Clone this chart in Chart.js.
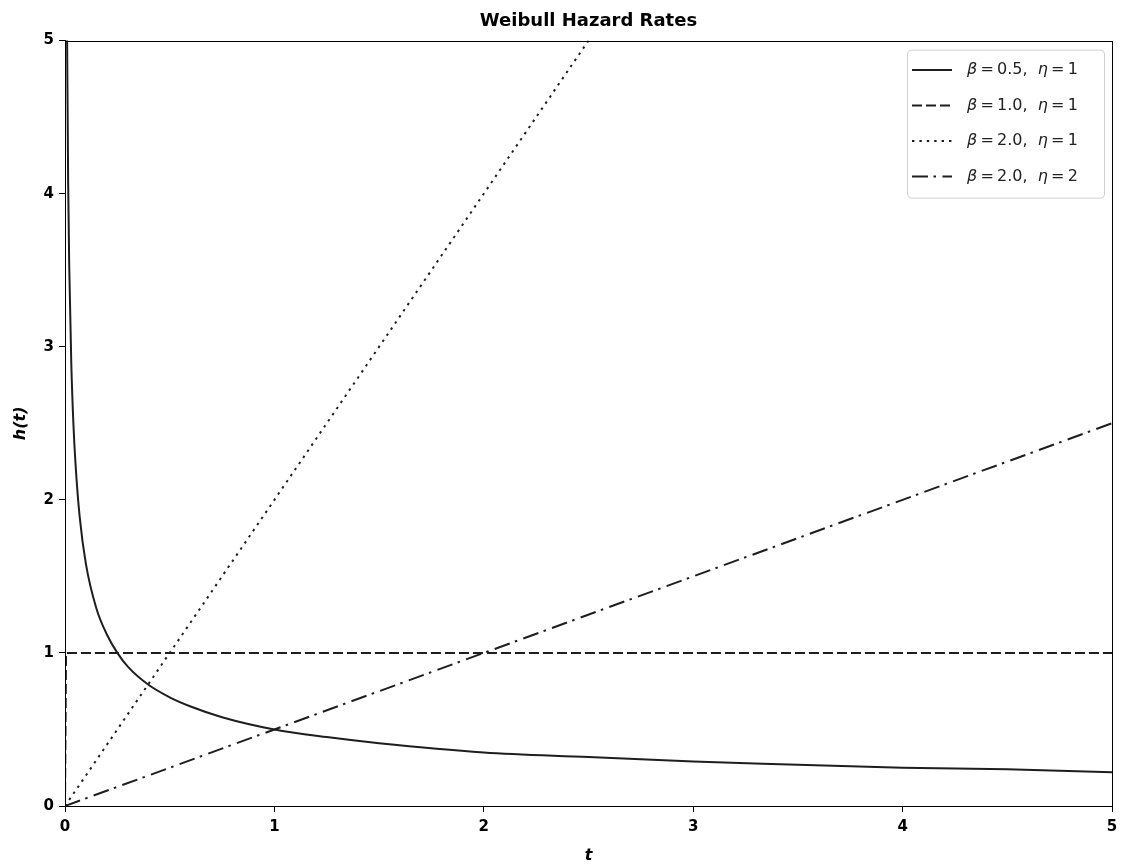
<!DOCTYPE html>
<html>
<head>
<meta charset="utf-8">
<script src="https://cdn.jsdelivr.net/npm/chart.js@4/dist/chart.umd.min.js"></script>
<style>
  html, body { margin: 0; padding: 0; background: #fff; }
  #wrap { width: 1121px; height: 865px; }
</style>
</head>
<body>
<div id="wrap"><canvas id="hazard"></canvas></div>
<script>
'use strict'

// values
const xTicks = [0, 1, 2, 3, 4, 5]
const yTicks = [0, 1, 2, 3, 4, 5]

const b05T = [0.008, 0.01, 0.015, 0.02, 0.03, 0.04, 0.05, 0.07, 0.1, 0.15, 0.2, 0.25, 0.3, 0.4, 0.5, 0.6, 0.75, 1, 1.25, 1.5, 2, 2.5, 3, 3.5, 4, 4.5, 5]
const b05H = [5.6, 5.0, 4.08, 3.54, 2.89, 2.5, 2.24, 1.89, 1.58, 1.29, 1.12, 1.0, 0.91, 0.79, 0.71, 0.65, 0.58, 0.5, 0.45, 0.41, 0.35, 0.32, 0.29, 0.27, 0.25, 0.24, 0.22]

const b10T = [0, 0.005, 5]
const b10H = [0, 1, 1]

const b20e1T = [0, 2.5]
const b20e1H = [0, 5]

const b20e2T = [0, 5]
const b20e2H = [0, 2.5]

const series = [
  { beta: '0.5', eta: '1', t: b05T, h: b05H, dash: [] },
  { beta: '1.0', eta: '1', t: b10T, h: b10H, dash: [10, 4] },
  { beta: '2.0', eta: '1', t: b20e1T, h: b20e1H, dash: [2.4, 5] },
  { beta: '2.0', eta: '2', t: b20e2T, h: b20e2H, dash: [16, 5.5, 2.5, 6.5] }
]

const lineColor = '#1e1e1e'
const fontFamily = "'DejaVu Sans', sans-serif"

Chart.defaults.font.family = fontFamily
Chart.defaults.color = '#000000'

// full box round the axes
const frame = {
  id: 'frame',
  afterDraw(chart) {
    const { ctx, chartArea: a } = chart
    ctx.save()
    ctx.strokeStyle = '#000000'
    ctx.lineWidth = 1
    ctx.strokeRect(Math.round(a.left) + 0.5, Math.round(a.top) + 0.5,
      Math.round(a.right - a.left), Math.round(a.bottom - a.top))
    ctx.restore()
  }
}

// matplotlib-style legend box in the upper right corner
const boxLegend = {
  id: 'boxLegend',
  afterDatasetsDraw(chart) {
    const { ctx, chartArea: a } = chart
    const w = 197
    const h = 148
    const x = a.right - 8 - w
    const y = a.top + 9
    ctx.save()
    ctx.beginPath()
    ctx.roundRect(x + 0.5, y + 0.5, w, h, 4)
    ctx.fillStyle = 'rgba(255,255,255,0.85)'
    ctx.fill()
    ctx.strokeStyle = '#d0d0d0'
    ctx.lineWidth = 1
    ctx.stroke()

    chart.data.datasets.forEach((ds, i) => {
      const s = series[i]
      const rowY = y + 20.5 + i * 35.5
      ctx.beginPath()
      ctx.setLineDash(ds.borderDash || [])
      ctx.strokeStyle = ds.borderColor
      ctx.lineWidth = ds.borderWidth
      ctx.moveTo(x + 5, rowY)
      ctx.lineTo(x + 45, rowY)
      ctx.stroke()
      ctx.setLineDash([])

      const parts = [
        ['italic', 'β'], ['normal', '\u2009=\u2009' + s.beta + ',  '],
        ['italic', 'η'], ['normal', '\u2009=\u2009' + s.eta]
      ]
      let tx = x + 60
      ctx.fillStyle = '#222222'
      ctx.textBaseline = 'middle'
      parts.forEach(([style, txt]) => {
        ctx.font = style + ' 16px ' + fontFamily
        ctx.fillText(txt, tx, rowY)
        tx += ctx.measureText(txt).width
      })
    })
    ctx.restore()
  }
}

new Chart(document.getElementById('hazard'), {
  type: 'line',
  data: {
    datasets: series.map((s) => ({
      label: 'β = ' + s.beta + ', η = ' + s.eta,
      data: s.t.map((t, i) => ({ x: t, y: s.h[i] })),
      borderColor: lineColor,
      borderWidth: 2,
      borderDash: s.dash,
      pointRadius: 0,
      fill: false,
      tension: 0,
      cubicInterpolationMode: s.t.length > 3 ? 'monotone' : 'default'
    }))
  },
  options: {
    responsive: true,
    maintainAspectRatio: false,
    animation: false,
    layout: { padding: { left: 0, right: 9, top: 0, bottom: 0 } },
    scales: {
      x: {
        type: 'linear',
        min: 0,
        max: 5,
        afterBuildTicks: (scale) => { scale.ticks = xTicks.map((v) => ({ value: v })) },
        afterFit: (scale) => {
          scale.height = 59
          scale.paddingRight = 0
          scale.paddingLeft = 0
        },
        grid: { drawOnChartArea: false, drawTicks: true, tickLength: 6, color: '#000000' },
        border: { display: true, color: '#000000', width: 1 },
        ticks: { font: { size: 15, weight: 'bold' }, padding: 6, maxRotation: 0 },
        title: {
          display: true,
          text: 't',
          font: { size: 16, weight: 'bold', style: 'italic' },
          padding: { top: 0, bottom: 0 }
        }
      },
      y: {
        type: 'linear',
        min: 0,
        max: 5,
        afterBuildTicks: (scale) => { scale.ticks = yTicks.map((v) => ({ value: v })) },
        afterFit: (scale) => { scale.width = 65 },
        grid: { drawOnChartArea: false, drawTicks: true, tickLength: 6, color: '#000000' },
        border: { display: true, color: '#000000', width: 1 },
        ticks: { font: { size: 15, weight: 'bold' }, padding: 5 },
        title: {
          display: true,
          text: 'h(t)',
          font: { size: 16, weight: 'bold', style: 'italic' },
          padding: { top: 11, bottom: 0 }
        }
      }
    },
    plugins: {
      legend: { display: false },
      tooltip: { enabled: false },
      title: {
        display: true,
        text: 'Weibull Hazard Rates',
        fullSize: false,
        font: { size: 18, weight: 'bold' },
        color: '#000000',
        padding: { top: 11, bottom: 8 }
      }
    }
  },
  plugins: [frame, boxLegend]
})
</script>
</body>
</html>
